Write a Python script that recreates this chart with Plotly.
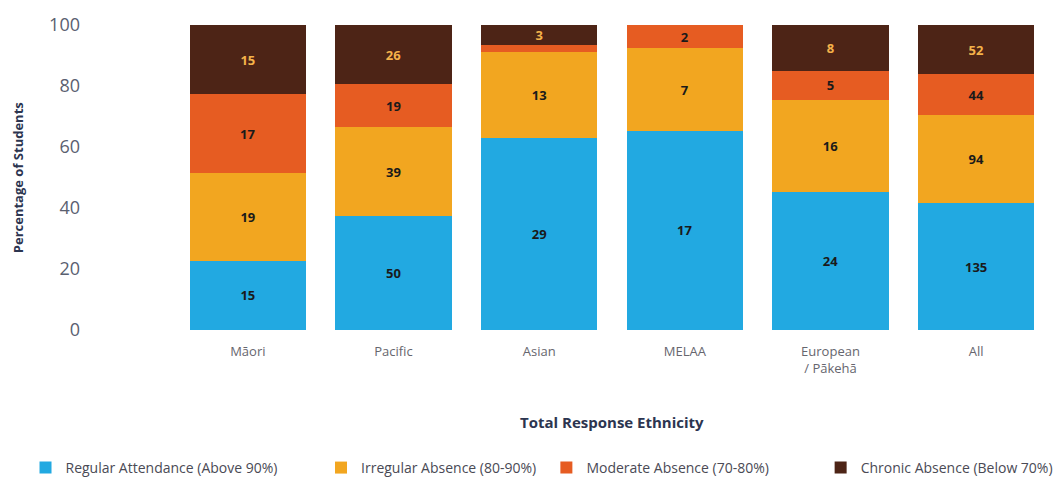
import plotly.graph_objects as go

categories = ["Māori", "Pacific", "Asian", "MELAA", "European<br>/ Pākehā", "All"]

# segment heights (percentage of students)
regular_pct = [22.7, 37.3, 63.0, 65.4, 45.3, 41.5]
irregular_pct = [28.8, 29.1, 28.3, 26.9, 30.2, 28.9]
moderate_pct = [25.8, 14.2, 2.2, 7.7, 9.4, 13.5]
chronic_pct = [22.7, 19.4, 6.5, 0.0, 15.1, 16.0]

# counts printed on the segments
regular_n = ["15", "50", "29", "17", "24", "135"]
irregular_n = ["19", "39", "13", "7", "16", "94"]
moderate_n = ["17", "19", "", "2", "5", "44"]
chronic_n = ["15", "26", "3", "", "8", "52"]

series = [
    ("Regular Attendance (Above 90%)", regular_pct, regular_n, "#22a9e1", "#1a1a1a"),
    ("Irregular Absence (80-90%)", irregular_pct, irregular_n, "#f2a620", "#1a1a1a"),
    ("Moderate Absence (70-80%)", moderate_pct, moderate_n, "#e65c22", "#1a1a1a"),
    ("Chronic Absence (Below 70%)", chronic_pct, chronic_n, "#4d2416", "#f4b24a"),
]
legend_ids = ["legend", "legend2", "legend3", "legend4"]
legend_x = [0.024, 0.302, 0.514, 0.772]

fig = go.Figure()
for (name, vals, labels, color, tcolor), lid in zip(series, legend_ids):
    fig.add_trace(go.Bar(
        x=categories, y=vals, name=name, legend=lid,
        marker=dict(color=color, line=dict(width=0)),
        text=labels, textposition="inside", insidetextanchor="middle",
        textangle=0,
        textfont=dict(family="Open Sans", size=13, color=tcolor, weight="bold"),
        constraintext="none",
        hoverinfo="skip",
    ))

legend_common = dict(
    orientation="h", xref="container", yref="container",
    y=0.043, xanchor="left", yanchor="middle",
    font=dict(family="Open Sans", size=14, color="#4a4a55"),
    itemwidth=30, bgcolor="rgba(0,0,0,0)",
)
legend_layout = {lid: dict(legend_common, x=lx) for lid, lx in zip(legend_ids, legend_x)}

fig.update_layout(
    barmode="stack",
    bargap=0.2,
    width=1063, height=489,
    margin=dict(l=175, r=14, t=20, b=159),
    paper_bgcolor="white", plot_bgcolor="white",
    showlegend=True,
    uniformtext=dict(mode=False),
    **legend_layout,
)

fig.update_yaxes(
    range=[0, 100], tickvals=[0, 20, 40, 60, 80, 100],
    showgrid=False, zeroline=False, showline=False,
    ticks="", ticklabelstandoff=94,
    tickfont=dict(family="Open Sans", size=18, color="#5a6070"),
)
fig.update_xaxes(
    showgrid=False, showline=False, ticks="",
    ticklabelstandoff=12,
    tickfont=dict(family="Open Sans", size=13, color="#66666e"),
)

fig.add_annotation(
    text="Percentage of Students", textangle=-90,
    xref="paper", yref="paper", x=-0.18, y=0.5,
    xanchor="center", yanchor="middle", showarrow=False,
    font=dict(family="Open Sans", size=13, color="#2c3550", weight="bold"),
)
fig.add_annotation(
    text="Total Response Ethnicity",
    xref="paper", yref="paper", x=0.5, y=-0.30,
    xanchor="center", yanchor="middle", showarrow=False,
    font=dict(family="Open Sans", size=15, color="#2c3550", weight="bold"),
)

fig.write_html("out.html")
